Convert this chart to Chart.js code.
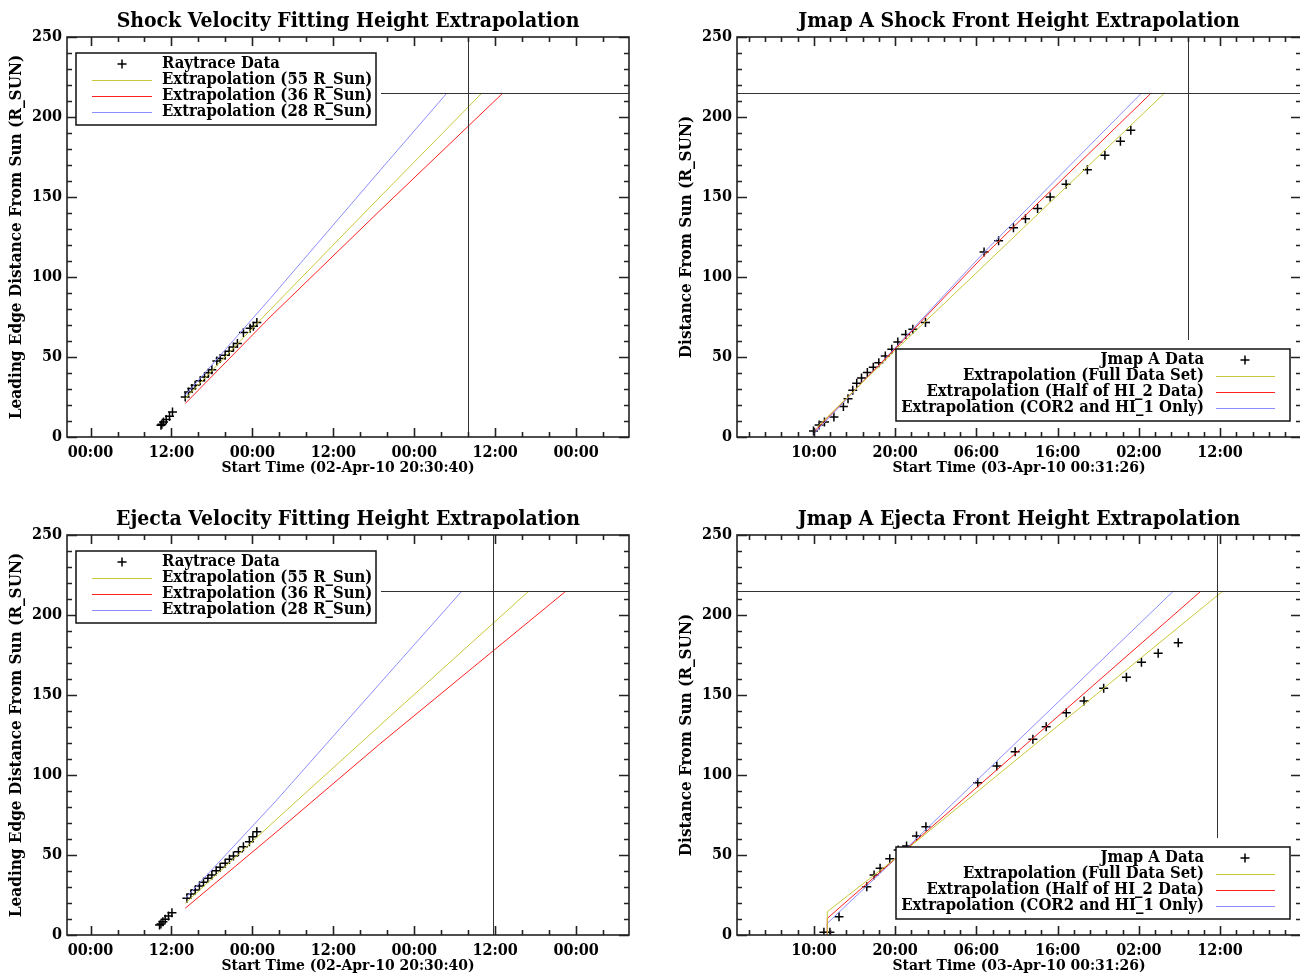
<!DOCTYPE html>
<html>
<head>
<meta charset="utf-8">
<title>Height Extrapolation</title>
<script src="https://cdn.jsdelivr.net/npm/chart.js@4.4.1/dist/chart.umd.min.js"></script>
<style>
  html, body { margin: 0; padding: 0; background: #fff; }
  body { width: 1300px; height: 977px; overflow: hidden; position: relative; }
  canvas { position: absolute; }
</style>
</head>
<body>
<canvas id="shockRay" width="650" height="498" style="left:0;top:0"></canvas>
<canvas id="shockJmap" width="660" height="498" style="left:650px;top:0"></canvas>
<canvas id="ejectaRay" width="650" height="479" style="left:0;top:498px"></canvas>
<canvas id="ejectaJmap" width="660" height="479" style="left:650px;top:498px"></canvas>
<script>
// ========== DATA ==========
// hours after the start time of each panel, distance in R_Sun
const rayStart = Date.UTC(2010, 3, 2, 20, 30, 40);
const jmapStart = Date.UTC(2010, 3, 3, 0, 31, 26);
const shockArrival = Date.UTC(2010, 3, 5, 8, 0);
const ejectaArrival = Date.UTC(2010, 3, 5, 11, 40);
const oneAU = 215;
const rayMaxHours = 300000 / 3600;
const jmapMaxHours = 250000 / 3600;
const distTicks = [0, 50, 100, 150, 200, 250];

// shock, raytrace
const shockRayHours = [13.93, 14.07, 14.31, 14.71, 15.2, 15.64, 17.53, 18.01, 18.52, 19.0, 19.75, 20.39,
  20.98, 21.48, 22.22, 22.71, 23.45, 24.04, 24.68, 25.27, 26.16, 27.16, 27.64, 28.15];
const shockRayDist = [7.3, 8.0, 9.4, 10.9, 13.0, 15.6, 25.0, 28.1, 30.3, 32.3, 35.1, 37.5,
  40.1, 42.0, 47.5, 49.0, 51.1, 53.6, 56.3, 58.4, 65.3, 67.9, 69.2, 71.5];
const shockFit55Hours = [17.53, 30.12, 46.4, 61.53];
const shockFit55Dist = [24.0, 79.5, 150.0, 215];
const shockFit36Hours = [17.53, 30.12, 46.4, 64.64];
const shockFit36Dist = [20.9, 75.0, 141.5, 215];
const shockFit28Hours = [17.53, 30.12, 46.4, 56.34];
const shockFit28Dist = [26.1, 86.5, 166.5, 215];

// shock, jmap A
const shockJmapHours = [9.42, 10.11, 10.77, 11.93, 13.1, 13.67, 14.25, 14.74, 15.33, 16.05, 16.78, 17.46,
  18.26, 19.06, 19.8, 20.77, 21.65, 23.21, 30.42, 32.21, 34.04, 35.52, 37.01, 38.56, 40.52, 43.14,
  45.3, 47.21, 48.49];
const shockJmapDist = [3.75, 7.5, 9.4, 12.5, 19.0, 23.9, 29.2, 33.6, 36.8, 40.25, 43.6, 46.4,
  50.6, 54.8, 59.4, 64.1, 67.3, 71.5, 115.6, 122.6, 130.75, 136.4, 142.75, 150.0, 157.9, 167.0,
  176.1, 184.8, 191.7];
const shockFullHours = [9.89, 19.35, 52.65];
const shockFullDist = [6.25, 53.5, 215];
const shockHalfHours = [9.56, 19.35, 30.44, 51.0];
const shockHalfDist = [3.75, 54.5, 113.5, 215];
const shockCorHours = [9.47, 19.35, 30.44, 49.81];
const shockCorDist = [2.1, 55.0, 115.5, 215];

// ejecta, raytrace
const ejectaRayHours = [13.72, 13.93, 14.22, 14.56, 15.05, 15.56, 17.78, 18.37, 19.01, 19.64, 20.24, 20.89,
  21.48, 22.12, 22.71, 23.45, 24.09, 24.68, 25.42, 26.16, 27.05, 27.56, 28.15];
const ejectaRayDist = [6.25, 6.9, 8.3, 9.8, 11.9, 13.9, 22.9, 25.6, 28.1, 30.6, 32.9, 35.4,
  37.5, 40.2, 42.3, 44.8, 47.3, 49.4, 52.1, 55.2, 58.3, 61.4, 64.6];
const ejectaFit55Hours = [17.53, 31.11, 46.41, 68.49];
const ejectaFit55Dist = [19.8, 72.5, 131.0, 215];
const ejectaFit36Hours = [17.53, 31.11, 46.41, 74.0];
const ejectaFit36Dist = [16.7, 64.6, 119.5, 215];
const ejectaFit28Hours = [17.53, 31.11, 46.41, 58.56];
const ejectaFit28Dist = [22.9, 84.4, 157.3, 215];

// ejecta, jmap A
const ejectaJmapHours = [10.7, 11.44, 12.56, 15.98, 16.88, 17.62, 18.81, 19.84, 20.88, 22.1, 23.26,
  29.64, 31.99, 34.25, 36.43, 38.07, 40.54, 42.73, 45.15, 47.95, 49.8, 51.86, 54.33];
const ejectaJmapDist = [1.7, 1.7, 11.4, 30.2, 37.5, 41.7, 47.7, 53.1, 55.6, 61.9, 67.7,
  95.2, 105.6, 114.6, 122.3, 130.2, 138.9, 146.25, 154.2, 161.1, 170.4, 176.1, 182.7];
const ejectaFullHours = [11.12, 11.12, 19.77, 59.83];
const ejectaFullDist = [0, 14.6, 48.9, 215];
const ejectaHalfHours = [11.12, 11.12, 19.77, 57.14];
const ejectaHalfDist = [0, 10.4, 48.9, 215];
const ejectaCorHours = [11.12, 11.12, 19.77, 53.74];
const ejectaCorDist = [0, 7.3, 48.9, 215];

const rayLegend = ["Raytrace Data", "Extrapolation (55 R_Sun)", "Extrapolation (36 R_Sun)", "Extrapolation (28 R_Sun)"];
const jmapLegend = ["Jmap A Data", "Extrapolation (Full Data Set)", "Extrapolation (Half of HI_2 Data)", "Extrapolation (COR2 and HI_1 Only)"];

// ========== STYLE ==========
const FONT = "'DejaVu Serif Condensed', 'DejaVu Serif', serif";
const YELLOW = "#c8c83c";
const RED = "#ff2020";
const BLUE = "#8c8cff";
const AXIS = "#222";

// ========== TIME HELPERS ==========
function hoursFrom(start, t) {
  return (t - start) / 3.6e6;
}

// ticks anchored on midnight of the start day, like IDL utplot does
function timeTicks(start, maxH, minorH, majorH) {
  const s = new Date(start);
  const day0 = Date.UTC(s.getUTCFullYear(), s.getUTCMonth(), s.getUTCDate());
  const out = [];
  for (let i = 0; ; i++) {
    const h = hoursFrom(start, day0 + i * minorH * 3.6e6);
    if (h > maxH) break;
    if (h >= 0) out.push({ h, major: (i * minorH) % majorH === 0 });
  }
  return out;
}

function hhmm(start, h) {
  const d = new Date(Math.round((start + h * 3.6e6) / 60000) * 60000);
  return String(d.getUTCHours()).padStart(2, "0") + ":" + String(d.getUTCMinutes()).padStart(2, "0");
}

function fmtStart(start) {
  const d = new Date(start);
  const mon = ["Jan", "Feb", "Mar", "Apr", "May", "Jun", "Jul", "Aug", "Sep", "Oct", "Nov", "Dec"][d.getUTCMonth()];
  const p = (n) => String(n).padStart(2, "0");
  return `${p(d.getUTCDate())}-${mon}-${p(d.getUTCFullYear() % 100)} ${p(d.getUTCHours())}:${p(d.getUTCMinutes())}:${p(d.getUTCSeconds())}`;
}

// ========== FRAME / LEGEND PLUGIN ==========
function framePlugin(p, ticks) {
  return {
    id: "frame",
    afterDatasetsDraw(chart) {
      const { ctx, chartArea: a, scales: { x, y } } = chart;
      const crisp = (v) => Math.round(v) + 0.5;

      // legend box position
      const lg = p.legendSide === "left"
        ? { left: a.left + 9, top: a.top + 16, width: 300, height: 72 }
        : { left: a.left + 159, top: a.bottom - 88, width: 394, height: 72 };

      // arrival time and 1 AU lines
      const ax = crisp(x.getPixelForValue(hoursFrom(p.start, p.arrival)));
      const ay = crisp(y.getPixelForValue(oneAU));
      ctx.save();
      ctx.strokeStyle = "#333";
      ctx.lineWidth = 1;
      ctx.beginPath();
      if (p.legendSide === "left") {
        ctx.moveTo(ax, a.bottom);
        ctx.lineTo(ax, a.top);
        ctx.moveTo(lg.left + lg.width + 5, ay);
        ctx.lineTo(a.right, ay);
      } else {
        ctx.moveTo(a.left, ay);
        ctx.lineTo(a.right, ay);
        ctx.moveTo(ax, lg.top - 9);
        ctx.lineTo(ax, a.top);
      }
      ctx.stroke();

      // box axes with inward ticks
      ctx.strokeStyle = AXIS;
      ctx.lineWidth = 1.6;
      ctx.strokeRect(a.left, a.top, a.right - a.left, a.bottom - a.top);
      ctx.beginPath();
      ticks.forEach((t) => {
        const px = crisp(x.getPixelForValue(t.h));
        const len = t.major ? 9 : 5;
        ctx.moveTo(px, a.bottom);
        ctx.lineTo(px, a.bottom - len);
        ctx.moveTo(px, a.top);
        ctx.lineTo(px, a.top + len);
      });
      for (let v = 0; v <= 250; v += 10) {
        const py = crisp(y.getPixelForValue(v));
        const len = v % 50 === 0 ? 10 : 5;
        ctx.moveTo(a.left, py);
        ctx.lineTo(a.left + len, py);
        ctx.moveTo(a.right, py);
        ctx.lineTo(a.right - len, py);
      }
      ctx.stroke();

      // legend
      ctx.fillStyle = "#fff";
      ctx.fillRect(lg.left, lg.top, lg.width, lg.height);
      ctx.strokeStyle = "#111";
      ctx.lineWidth = 1.5;
      ctx.strokeRect(lg.left, lg.top, lg.width, lg.height);
      ctx.font = `bold 16.5px ${FONT}`;
      ctx.textBaseline = "middle";
      ctx.fillStyle = "#000";
      const colors = [null, YELLOW, RED, BLUE];
      p.legend.forEach((label, i) => {
        const ry = lg.top + 11 + i * 16;
        let symX, x0, x1;
        if (p.legendSide === "left") {
          symX = lg.left + 46; x0 = lg.left + 16; x1 = lg.left + 76;
          ctx.textAlign = "left";
          ctx.fillText(label, lg.left + 86, ry);
        } else {
          symX = lg.left + 349; x0 = lg.left + 320; x1 = lg.left + 379;
          ctx.textAlign = "right";
          ctx.fillText(label, lg.left + 308, ry);
        }
        if (colors[i]) {
          ctx.strokeStyle = colors[i];
          ctx.lineWidth = 1;
          ctx.beginPath();
          ctx.moveTo(x0, crisp(ry));
          ctx.lineTo(x1, crisp(ry));
          ctx.stroke();
        } else {
          ctx.strokeStyle = "#000";
          Chart.helpers.drawPoint(ctx, { pointStyle: "cross", radius: 4.5, rotation: 0, borderWidth: 1.5 }, symX, ry);
        }
      });

      // titles
      const cx = (a.left + a.right) / 2;
      ctx.fillStyle = "#000";
      ctx.textAlign = "center";
      ctx.font = `bold 21px ${FONT}`;
      ctx.fillText(p.title, cx, 22);
      ctx.font = `bold 15.5px ${FONT}`;
      ctx.fillText(`Start Time (${fmtStart(p.start)})`, cx, a.bottom + 31);
      ctx.font = `bold 17px ${FONT}`;
      ctx.translate(a.left - 50, (a.top + a.bottom) / 2);
      ctx.rotate(-Math.PI / 2);
      ctx.fillText(p.yTitle, 0, 0);
      ctx.restore();
    },
  };
}

// ========== PANELS ==========
function panel(canvasId, p) {
  const canvas = document.getElementById(canvasId);
  const W = canvas.width, H = canvas.height;
  const g = p.box;
  const ticks = timeTicks(p.start, p.maxH, p.minorH, p.majorH);
  const majors = ticks.filter((t) => t.major).map((t) => t.h);
  const font = { family: FONT, size: 16, weight: "bold" };
  const fitColors = [YELLOW, RED, BLUE];

  const datasets = p.fits.map((f, k) => ({
    type: "line",
    data: f[0].map((h, i) => ({ x: h, y: f[1][i] })),
    borderColor: fitColors[k],
    borderWidth: 1,
    pointRadius: 0,
    tension: 0,
    fill: false,
  }));
  datasets.push({
    type: "scatter",
    data: p.hours.map((h, i) => ({ x: h, y: p.dist[i] })),
    pointStyle: "cross",
    pointRadius: 4.5,
    borderColor: "#000",
    borderWidth: 1.5,
  });

  return new Chart(canvas, {
    type: "scatter",
    data: { datasets },
    options: {
      responsive: false,
      animation: false,
      layout: { padding: { left: 0, top: g.top, right: W - g.right, bottom: 0 } },
      plugins: { legend: { display: false }, tooltip: { enabled: false } },
      scales: {
        x: {
          type: "linear",
          min: 0,
          max: p.maxH,
          grid: { display: false, drawTicks: false },
          border: { display: false },
          afterBuildTicks: (s) => { s.ticks = majors.map((v) => ({ value: v })); },
          afterFit: (s) => { s.height = H - g.bottom; },
          ticks: {
            callback: (v) => hhmm(p.start, v),
            font, color: "#000", padding: 6, maxRotation: 0, autoSkip: false,
          },
        },
        y: {
          min: 0,
          max: 250,
          grid: { display: false, drawTicks: false },
          border: { display: false },
          afterBuildTicks: (s) => { s.ticks = distTicks.map((v) => ({ value: v })); },
          afterFit: (s) => { s.width = g.left; },
          ticks: { font, color: "#000", padding: 5 },
        },
      },
    },
    plugins: [framePlugin(p, ticks)],
  });
}

const leftBox = { left: 67, top: 37, right: 629, bottom: 437 };
const rightBox = { left: 87, top: 37, right: 651, bottom: 437 };

panel("shockRay", {
  box: leftBox, start: rayStart, maxH: rayMaxHours, minorH: 4, majorH: 12, arrival: shockArrival,
  title: "Shock Velocity Fitting Height Extrapolation",
  yTitle: "Leading Edge Distance From Sun (R_SUN)",
  hours: shockRayHours, dist: shockRayDist,
  fits: [[shockFit55Hours, shockFit55Dist], [shockFit36Hours, shockFit36Dist], [shockFit28Hours, shockFit28Dist]],
  legend: rayLegend, legendSide: "left",
});

panel("shockJmap", {
  box: rightBox, start: jmapStart, maxH: jmapMaxHours, minorH: 2, majorH: 10, arrival: shockArrival,
  title: "Jmap A Shock Front Height Extrapolation",
  yTitle: "Distance From Sun (R_SUN)",
  hours: shockJmapHours, dist: shockJmapDist,
  fits: [[shockFullHours, shockFullDist], [shockHalfHours, shockHalfDist], [shockCorHours, shockCorDist]],
  legend: jmapLegend, legendSide: "right",
});

panel("ejectaRay", {
  box: leftBox, start: rayStart, maxH: rayMaxHours, minorH: 4, majorH: 12, arrival: ejectaArrival,
  title: "Ejecta Velocity Fitting Height Extrapolation",
  yTitle: "Leading Edge Distance From Sun (R_SUN)",
  hours: ejectaRayHours, dist: ejectaRayDist,
  fits: [[ejectaFit55Hours, ejectaFit55Dist], [ejectaFit36Hours, ejectaFit36Dist], [ejectaFit28Hours, ejectaFit28Dist]],
  legend: rayLegend, legendSide: "left",
});

panel("ejectaJmap", {
  box: rightBox, start: jmapStart, maxH: jmapMaxHours, minorH: 2, majorH: 10, arrival: ejectaArrival,
  title: "Jmap A Ejecta Front Height Extrapolation",
  yTitle: "Distance From Sun (R_SUN)",
  hours: ejectaJmapHours, dist: ejectaJmapDist,
  fits: [[ejectaFullHours, ejectaFullDist], [ejectaHalfHours, ejectaHalfDist], [ejectaCorHours, ejectaCorDist]],
  legend: jmapLegend, legendSide: "right",
});
</script>
</body>
</html>
